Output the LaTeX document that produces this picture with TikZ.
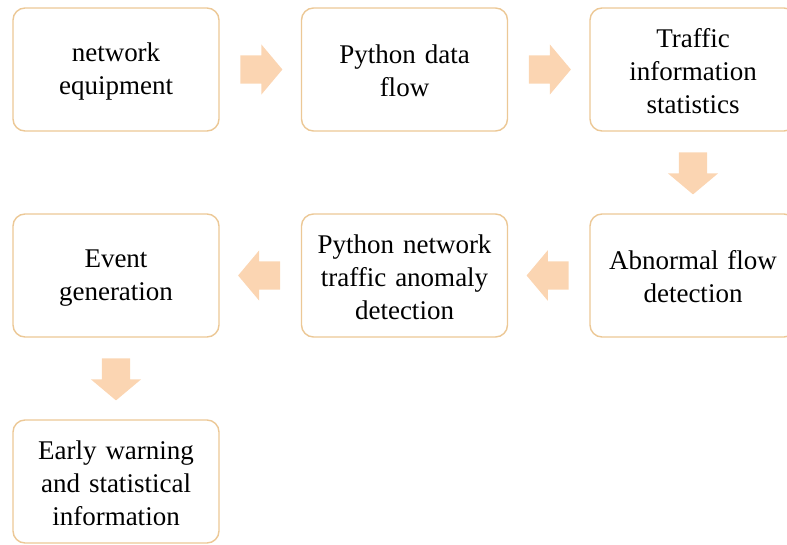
\documentclass[tikz,border=0pt]{standalone}
\usepackage{fontspec}
\setmainfont{Liberation Serif}
\usetikzlibrary{calc, shapes.arrows}

\definecolor{boxline}{RGB}{236,200,150}
\definecolor{arrowfill}{RGB}{251,213,178}

\begin{document}
\begin{tikzpicture}[
  x=1pt, y=-1pt,
  stepbox/.style={draw=boxline, line width=1.4pt, rounded corners=12pt, fill=white,
    minimum width=206pt, minimum height=123pt, text width=200pt, align=center,
    inner sep=0pt, font=\fontsize{27}{33}\selectfont,
    execute at begin node={\rule{0pt}{22pt}}},
  flowarrow/.style={single arrow, draw=none, fill=arrowfill, anchor=tail,
    inner xsep=0pt, inner ysep=14pt, minimum height=42pt,
    single arrow head extend=11pt, single arrow tip angle=100},
]

% page frame (the third box runs off the right edge)
\useasboundingbox (0,0) rectangle (787,544);
\clip (0,0) rectangle (787,544);

% first row
\node[stepbox] (equip)  at (116, 69.5)   {network\\equipment};
\node[stepbox] (pyflow) at (404.5, 69.5) {Python data\\flow};
\node[stepbox] (stats)  at (693, 69.5)   {Traffic\\information\\statistics};

% second row
\node[stepbox] (abnormal) at (693, 275.5)   {Abnormal flow\\detection};
\node[stepbox] (pydetect) at (404.5, 275.5) {Python network\\traffic anomaly\\detection};
\node[stepbox] (event)    at (116, 275.5)   {Event\\generation};

% third row
\node[stepbox] (warning) at (116, 481.5) {Early warning\\and statistical\\information};

% block arrows, tail 20.5pt out of each box so they sit halfway in the gap
\node[flowarrow]             (a1) at ($(equip.east)!20.5pt!(pyflow.west)$) {};
\node[flowarrow]             (a2) at ($(pyflow.east)!20.5pt!(stats.west)$) {};
\node[flowarrow, rotate=-90] (a3) at ($(stats.south)!20.5pt!(abnormal.north)$) {};
\node[flowarrow, rotate=180] (a4) at ($(abnormal.west)!20.5pt!(pydetect.east)$) {};
\node[flowarrow, rotate=180] (a5) at ($(pydetect.west)!20.5pt!(event.east)$) {};
\node[flowarrow, rotate=-90] (a6) at ($(event.south)!20.5pt!(warning.north)$) {};

\end{tikzpicture}
\end{document}
